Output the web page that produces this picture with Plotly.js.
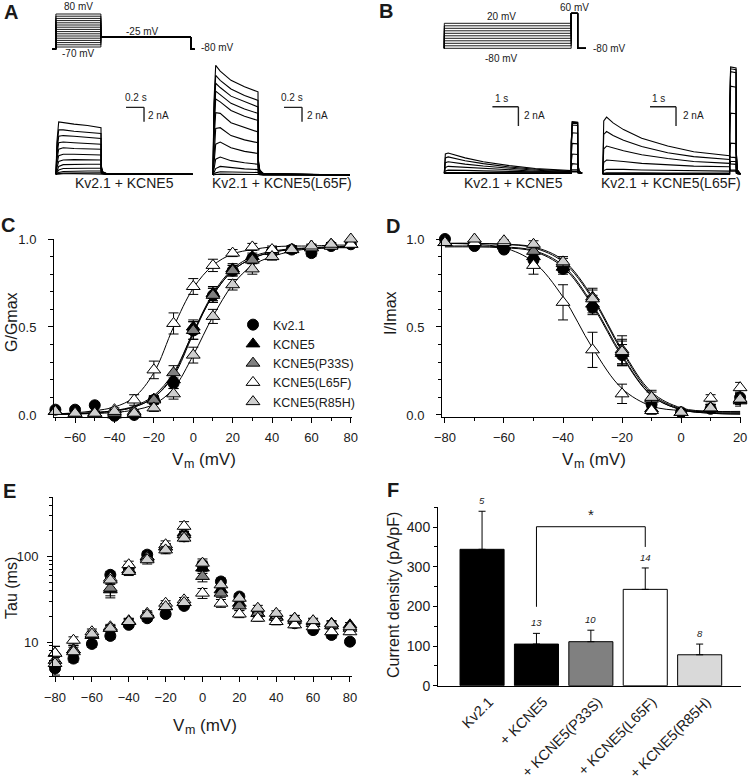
<!DOCTYPE html>
<html><head><meta charset="utf-8">
<script src="https://cdn.plot.ly/plotly-3.0.1.min.js"></script>
<style>html,body{margin:0;padding:0;background:#fff}</style>
</head><body><div id="chart" style="width:750px;height:782px"></div>
<script>
// ---------- DATA ----------
// Panel A: voltage protocol (mV) and current sweeps (nA) vs time (s)
const protoA_steps = [-70,-60,-50,-40,-30,-20,-10,0,10,20,30,40,50,60,70,80];
const protoA_t = [-0.04, 0, 0, 0.5, 0.5, 1.5, 1.5, 1.54];
const protoA_hold = -80, protoA_tail = -25;
const aTime = [0, 0.01, 0.03, 0.08, 0.2, 0.35, 0.5, 0.503, 0.52, 0.56, 1.52];
const aKCNE5 = [
 [0, 4.5, 7.3, 7.2, 7.0, 6.8, 6.5, 1.2, 0.35, 0.1, 0],
 [0, 3.8, 6.2, 6.2, 6.0, 5.9, 5.7, 1.0, 0.3, 0.1, 0],
 [0, 3.2, 5.3, 5.4, 5.3, 5.2, 5.0, 0.9, 0.3, 0.08, 0],
 [0, 2.6, 4.4, 4.5, 4.4, 4.3, 4.2, 0.8, 0.25, 0.08, 0],
 [0, 2.0, 3.5, 3.7, 3.6, 3.6, 3.5, 0.7, 0.22, 0.07, 0],
 [0, 1.4, 2.6, 2.8, 2.8, 2.75, 2.7, 0.6, 0.2, 0.06, 0],
 [0, 0.9, 1.8, 2.0, 2.05, 2.0, 2.0, 0.5, 0.18, 0.05, 0],
 [0, 0.5, 1.1, 1.35, 1.4, 1.4, 1.4, 0.4, 0.15, 0.05, 0],
 [0, 0.25, 0.6, 0.8, 0.85, 0.85, 0.85, 0.3, 0.1, 0.04, 0],
 [0, 0.1, 0.25, 0.4, 0.45, 0.47, 0.47, 0.2, 0.08, 0.03, 0],
 [0, 0.04, 0.1, 0.17, 0.21, 0.22, 0.22, 0.1, 0.05, 0.02, 0],
 [0, 0.02, 0.04, 0.07, 0.09, 0.1, 0.1, 0.05, 0.03, 0.01, 0]
];
const aL65F = [
 [0, 10, 15.3, 14.5, 13.2, 12.3, 11.6, 2.2, 0.7, 0.2, 0],
 [0, 9, 13.9, 13.2, 12.0, 11.1, 10.4, 2.0, 0.6, 0.2, 0],
 [0, 8, 12.8, 12.2, 11.0, 10.2, 9.5, 1.8, 0.55, 0.18, 0],
 [0, 7, 11.7, 11.2, 10.0, 9.2, 8.6, 1.6, 0.5, 0.16, 0],
 [0, 6, 10.6, 10.2, 9.0, 8.2, 7.6, 1.4, 0.45, 0.15, 0],
 [0, 4.5, 8.7, 8.6, 7.3, 6.6, 6.0, 1.2, 0.4, 0.12, 0],
 [0, 3, 6.5, 6.6, 5.5, 4.9, 4.5, 1.0, 0.35, 0.1, 0],
 [0, 1.8, 4.3, 4.6, 3.8, 3.3, 3.0, 0.8, 0.3, 0.08, 0],
 [0, 0.8, 2.2, 2.5, 2.0, 1.7, 1.5, 0.5, 0.2, 0.06, 0],
 [0, 0.3, 0.9, 1.2, 1.0, 0.85, 0.75, 0.3, 0.12, 0.04, 0],
 [0, 0.1, 0.3, 0.45, 0.42, 0.38, 0.35, 0.15, 0.07, 0.02, 0],
 [0, 0.03, 0.08, 0.12, 0.13, 0.12, 0.12, 0.06, 0.03, 0.01, 0]
];
// Panel B
const protoB_steps = [-80,-70,-60,-50,-40,-30,-20,-10,0,10,20];
const protoB_t = [0, 0, 4.88, 4.88, 5.13, 5.13, 5.45];
const protoB_hold = -80, protoB_test = 60;
const bTime = [0, 0.04, 0.15, 0.4, 0.8, 1.5, 2.5, 3.5, 4.88, 4.885, 4.92, 5.13, 5.135, 5.18, 5.3];
const bKCNE5 = [
 [0, 2.0, 2.1, 1.9, 1.6, 1.2, 0.8, 0.5, 0.28, 0.4, 0.35, 0.35, 0.1, 0.03, 0],
 [0, 1.6, 1.7, 1.55, 1.3, 1.0, 0.65, 0.42, 0.22, 0.3, 0.2, 0.2, 0.06, 0.02, 0],
 [0, 1.1, 1.2, 1.1, 0.95, 0.75, 0.5, 0.32, 0.17, 0.2, 0.15, 0.15, 0.05, 0.02, 0],
 [0, 0.6, 0.72, 0.68, 0.6, 0.48, 0.33, 0.22, 0.12, 0.6, 1.0, 0.95, 0.25, 0.05, 0],
 [0, 0.25, 0.33, 0.33, 0.3, 0.25, 0.18, 0.12, 0.07, 1.2, 2.0, 1.95, 0.45, 0.08, 0],
 [0, 0.05, 0.08, 0.09, 0.09, 0.08, 0.06, 0.05, 0.03, 1.9, 3.1, 3.05, 0.7, 0.12, 0],
 [0, 0, 0, 0, 0, 0, 0, 0, 0, 2.6, 4.2, 4.15, 0.9, 0.15, 0],
 [0, 0, 0, 0, 0, 0, 0, 0, 0, 3.1, 5.0, 4.95, 1.1, 0.18, 0],
 [0, 0, 0, 0, 0, 0, 0, 0, 0, 3.2, 5.2, 5.15, 1.15, 0.2, 0],
 [0, 0, 0, 0, 0, 0, 0, 0, 0, 3.3, 5.3, 5.25, 1.2, 0.2, 0],
 [0, 0, 0, 0, 0, 0, 0, 0, 0, 3.3, 5.35, 5.3, 1.2, 0.2, 0]
];
const bL65F = [
 [0, 5.5, 5.9, 5.3, 4.6, 3.7, 2.9, 2.3, 1.9, 1.9, 1.75, 1.7, 0.4, 0.08, 0],
 [0, 4.1, 4.4, 4.0, 3.5, 2.85, 2.2, 1.8, 1.5, 1.3, 1.05, 1.0, 0.25, 0.05, 0],
 [0, 2.6, 2.9, 2.7, 2.4, 2.0, 1.6, 1.3, 1.1, 0.6, 0.3, 0.3, 0.08, 0.02, 0],
 [0, 1.2, 1.45, 1.4, 1.3, 1.1, 0.95, 0.82, 0.75, 0.5, 0.4, 0.4, 0.1, 0.02, 0],
 [0, 0.35, 0.5, 0.5, 0.48, 0.42, 0.37, 0.33, 0.3, 0.9, 1.3, 1.3, 0.3, 0.06, 0],
 [0, 0.08, 0.12, 0.13, 0.13, 0.12, 0.11, 0.1, 0.09, 2.0, 3.2, 3.15, 0.7, 0.12, 0],
 [0, 0, 0, 0, 0, 0, 0, 0, 0, 4.0, 6.3, 6.25, 1.4, 0.25, 0],
 [0, 0, 0, 0, 0, 0, 0, 0, 0, 5.8, 9.1, 9.0, 2.0, 0.35, 0],
 [0, 0, 0, 0, 0, 0, 0, 0, 0, 6.8, 10.6, 10.5, 2.3, 0.4, 0],
 [0, 0, 0, 0, 0, 0, 0, 0, 0, 7.0, 10.9, 10.8, 2.4, 0.4, 0],
 [0, 0, 0, 0, 0, 0, 0, 0, 0, 7.1, 11.1, 11.0, 2.4, 0.4, 0]
];
const scaleA = {t: 0.2, i: 2};
const scaleB = {t: 1, i: 2};

// Panel C: G/Gmax
const vC = [-70,-60,-50,-40,-30,-20,-10,0,10,20,30,40,50,60,70,80];
const gKv21  = [0.03,0.03,0.055,-0.005,0.0,0.085,0.18,0.48,0.68,0.82,0.89,0.93,0.94,0.92,0.96,0.97];
const gKCNE5 = [0.02,0.01,0.01,0.0,0.01,0.09,0.2,0.5,0.69,0.83,0.9,0.93,0.94,0.95,0.96,0.97];
const gP33S  = [0.02,0.01,0.01,0.01,0.02,0.085,0.24,0.48,0.68,0.82,0.88,0.93,0.94,0.96,0.97,0.97];
const gL65F  = [0.02,0.01,0.01,0.03,0.085,0.256,0.52,0.73,0.85,0.92,0.955,0.94,0.94,0.95,0.96,0.97];
const gR85H  = [0.02,0.01,0.01,0.02,0.01,0.04,0.12,0.34,0.56,0.74,0.83,0.9,0.94,0.96,0.97,1.0];
const egKv21  = [0.01,0.01,0.01,0.01,0.01,0.02,0.03,0.05,0.04,0.03,0.02,0.02,0.02,0.02,0.01,0.01];
const egKCNE5 = [0.01,0.01,0.01,0.01,0.01,0.02,0.03,0.04,0.04,0.03,0.02,0.02,0.02,0.01,0.01,0.01];
const egP33S  = [0.01,0.01,0.01,0.01,0.01,0.02,0.04,0.05,0.04,0.03,0.02,0.02,0.02,0.01,0.01,0.01];
const egL65F  = [0.01,0.01,0.01,0.01,0.03,0.05,0.06,0.045,0.035,0.02,0.02,0.02,0.01,0.01,0.01,0.01];
const egR85H  = [0.01,0.01,0.01,0.01,0.01,0.02,0.03,0.045,0.04,0.03,0.03,0.02,0.02,0.01,0.01,0.01];
const fitGKv21  = [0.005,0.008,0.013,0.024,0.045,0.1,0.22,0.46,0.68,0.82,0.89,0.925,0.94,0.945,0.95,0.95];
const fitGKCNE5 = [0.004,0.007,0.012,0.022,0.045,0.1,0.23,0.47,0.69,0.83,0.9,0.93,0.945,0.95,0.955,0.955];
const fitGP33S  = [0.004,0.007,0.013,0.025,0.05,0.11,0.24,0.47,0.68,0.82,0.89,0.925,0.94,0.95,0.955,0.96];
const fitGL65F  = [0.006,0.012,0.024,0.045,0.1,0.24,0.5,0.72,0.85,0.915,0.94,0.955,0.96,0.96,0.965,0.965];
const fitGR85H  = [0.003,0.005,0.008,0.014,0.028,0.06,0.15,0.34,0.56,0.74,0.85,0.9,0.93,0.945,0.95,0.955];

// Panel D: I/Imax
const vD = [-80,-70,-60,-50,-40,-30,-20,-10,0,10,20];
const iKv21  = [1.0,0.96,0.94,0.88,0.83,0.61,0.34,0.06,0.015,0.035,0.10];
const iKCNE5 = [0.98,0.99,0.96,0.90,0.84,0.63,0.35,0.035,0.015,0.04,0.08];
const iP33S  = [0.98,0.99,0.98,0.93,0.86,0.67,0.37,0.09,0.015,0.04,0.09];
const iL65F  = [0.98,0.98,0.98,0.85,0.64,0.37,0.12,0.025,0.015,0.095,0.155];
const iR85H  = [0.98,1.0,0.99,0.97,0.87,0.66,0.36,0.10,0.015,0.04,0.09];
const eiKv21  = [0.01,0.01,0.01,0.03,0.03,0.04,0.06,0.03,0.01,0.02,0.03];
const eiKCNE5 = [0.01,0.01,0.01,0.02,0.03,0.05,0.07,0.03,0.01,0.02,0.03];
const eiP33S  = [0.01,0.01,0.01,0.02,0.03,0.05,0.08,0.04,0.01,0.02,0.03];
const eiL65F  = [0.01,0.01,0.01,0.05,0.1,0.1,0.055,0.02,0.01,0.02,0.03];
const eiR85H  = [0.01,0.01,0.01,0.02,0.03,0.05,0.07,0.04,0.01,0.02,0.03];
const fitIKv21  = [0.955,0.955,0.95,0.93,0.84,0.62,0.33,0.11,0.03,0.01,0.005];
const fitIKCNE5 = [0.96,0.96,0.955,0.935,0.85,0.63,0.34,0.11,0.03,0.01,0.005];
const fitIP33S  = [0.975,0.975,0.97,0.95,0.87,0.66,0.36,0.12,0.035,0.015,0.01];
const fitIL65F  = [0.975,0.97,0.95,0.87,0.67,0.38,0.15,0.05,0.025,0.02,0.02];
const fitIR85H  = [0.975,0.975,0.97,0.955,0.88,0.67,0.37,0.13,0.04,0.02,0.015];

// Panel E: Tau (ms), fast component over all voltages, slow component -50..-10 mV
const vE = [-80,-70,-60,-50,-40,-30,-20,-10,0,10,20,30,40,50,60,70,80];
const tFKv21  = [4.9,6.4,9.5,11.8,15.9,19,21.3,26.5,80.5,51.2,34.1,22.7,19,16.6,13.8,12.1,10.1];
const tFKCNE5 = [7.4,8.1,12,14.5,17.4,20.8,26,29,73.6,40.9,28.5,21.7,19.9,19,17.4,16.6,15.9];
const tFP33S  = [6.1,8.1,12,14.5,17.4,20.8,26,29,58.7,37.4,26.5,21.7,19.5,18,16.5,15.5,14.5];
const tFL65F  = [7.4,10.5,13.2,15.1,17.8,21.7,28.5,31.2,37.4,28.5,21.3,19,17.4,15.9,15.1,13.2,13.2];
const tFR85H  = [5.6,7.7,12.4,14.5,17.4,20.8,26,29,84,46.8,32.6,24.9,21.7,19,17.8,16.3,15.1];
const etFKv21  = [0.8,0.6,0.8,1,1,1.5,1.5,2,8,5,3,2,1.5,1.2,1,1,0.8];
const etFKCNE5 = [1.5,1,1,1,1.2,1.5,2,2,10,5,3,2,1.5,1.5,1.2,1.2,1];
const etFP33S  = [1.2,1,1,1,1.2,1.5,2,2,8,4,3,2,1.5,1.5,1.2,1.2,1];
const etFL65F  = [1.5,1,1,1,1.2,1.5,2,2,5,3,2,1.5,1.5,1.2,1,1,1];
const etFR85H  = [1,1,1,1,1.2,1.5,2,2,10,5,3,2,1.5,1.5,1.2,1.2,1];
const vES = [-50,-40,-30,-20,-10];
const tSKv21  = [61.3,73.6,105.6,126,173];
const tSKCNE5 = [40.9,70,100,130,190];
const tSP33S  = [42.8,70,100,130,181];
const tSL65F  = [56,80.5,96,138,227];
const tSR85H  = [53.3,67.1,92,120,165];
const etSKv21  = [6,7,10,12,15];
const etSKCNE5 = [8,7,10,12,20];
const etSP33S  = [8,7,10,12,18];
const etSL65F  = [6,8,10,15,30];
const etSR85H  = [6,7,10,12,15];

// Panel F: current density
const catsF = ['Kv2.1', '+ KCNE5', '+ KCNE5(P33S)', '+ KCNE5(L65F)', '+ KCNE5(R85H)'];
const densF = [344, 105, 111, 243, 78];
const errF = [96, 27, 29, 54, 27];
const nF = ['5', '13', '10', '14', '8'];
const sigF = {from: 1, to: 3, yLeft: 199, yTop: 401, yRight: 350, label: '*'};

const seriesNames = ['Kv2.1', 'KCNE5', 'KCNE5(P33S)', 'KCNE5(L65F)', 'KCNE5(R85H)'];

// ---------- STYLE ----------
const W = 750, H = 782;
const FONT = '"Liberation Sans", Arial, Helvetica, sans-serif';
const TXT = '#1a1a1a';
const symbols = ['circle', 'triangle-up', 'triangle-up', 'triangle-up', 'triangle-up'];
const fills = ['#000000', '#000000', '#808080', '#ffffff', '#cfcfcf'];
const barFills = ['#000000', '#000000', '#808080', '#ffffff', '#d9d9d9'];
const sizes = [11, 12, 12, 12, 12];
function dx(a, b) { return [a / W, b / W]; }
function dy(t, b) { return [1 - b / H, 1 - t / H]; }
function px(x) { return x / W; }
function py(y) { return 1 - y / H; }

const traces = [];
function addLine(x, y, xa, ya, w) {
  traces.push({x: x, y: y, xaxis: xa, yaxis: ya, mode: 'lines', line: {color: '#000', width: w || 1.1},
    hoverinfo: 'skip', showlegend: false});
}
// Protocol A
protoA_steps.forEach(v => addLine(protoA_t, [protoA_hold, protoA_hold, v, v, protoA_tail, protoA_tail, protoA_hold, protoA_hold], 'x', 'y', 0.9));
aKCNE5.forEach(r => addLine(aTime, r, 'x2', 'y2'));
aL65F.forEach(r => addLine(aTime, r, 'x3', 'y3'));
// Protocol B
protoB_steps.forEach(v => addLine(protoB_t, [protoB_hold, v, v, protoB_test, protoB_test, protoB_hold, protoB_hold], 'x4', 'y4', 0.9));
bKCNE5.forEach(r => addLine(bTime, r, 'x5', 'y5'));
bL65F.forEach(r => addLine(bTime, r, 'x6', 'y6'));

// Panel C
const gData = [gKv21, gKCNE5, gP33S, gL65F, gR85H];
const gErr = [egKv21, egKCNE5, egP33S, egL65F, egR85H];
const gFit = [fitGKv21, fitGKCNE5, fitGP33S, fitGL65F, fitGR85H];
gFit.forEach(f => traces.push({x: vC, y: f, xaxis: 'x7', yaxis: 'y7', mode: 'lines',
  line: {color: '#000', width: 1, shape: 'spline', smoothing: 1}, hoverinfo: 'skip', showlegend: false}));
function markerTrace(x, y, e, i, xa, ya, legend, capw) {
  return {x: x, y: y, xaxis: xa, yaxis: ya, mode: 'markers', name: seriesNames[i],
    legendgroup: seriesNames[i], showlegend: legend, cliponaxis: false,
    marker: {symbol: symbols[i], size: sizes[i], color: fills[i], line: {color: '#000', width: 1}},
    error_y: {type: 'data', array: e, visible: true, thickness: 1, width: capw, color: '#000'}};
}
gData.forEach((d, i) => traces.push(markerTrace(vC, d, gErr[i], i, 'x7', 'y7', true, 5)));

// Panel D
const iData = [iKv21, iKCNE5, iP33S, iL65F, iR85H];
const iErr = [eiKv21, eiKCNE5, eiP33S, eiL65F, eiR85H];
const iFit = [fitIKv21, fitIKCNE5, fitIP33S, fitIL65F, fitIR85H];
iFit.forEach(f => traces.push({x: vD, y: f, xaxis: 'x8', yaxis: 'y8', mode: 'lines',
  line: {color: '#000', width: 1, shape: 'spline', smoothing: 1}, hoverinfo: 'skip', showlegend: false}));
iData.forEach((d, i) => traces.push(markerTrace(vD, d, iErr[i], i, 'x8', 'y8', false, 5)));

// Panel E
const tF = [tFKv21, tFKCNE5, tFP33S, tFL65F, tFR85H];
const etF = [etFKv21, etFKCNE5, etFP33S, etFL65F, etFR85H];
const tS = [tSKv21, tSKCNE5, tSP33S, tSL65F, tSR85H];
const etS = [etSKv21, etSKCNE5, etSP33S, etSL65F, etSR85H];
tF.forEach((d, i) => traces.push(markerTrace(vE, d, etF[i], i, 'x9', 'y9', false, 5)));
tS.forEach((d, i) => traces.push(markerTrace(vES, d, etS[i], i, 'x9', 'y9', false, 5)));

// Panel F
const xF = catsF.map((c, i) => i);
traces.push({type: 'bar', x: xF, y: densF, xaxis: 'x10', yaxis: 'y10', width: 0.81,
  marker: {color: barFills, line: {color: '#000', width: 1}}, showlegend: false, hoverinfo: 'skip',
  error_y: {type: 'data', symmetric: false, array: errF, arrayminus: densF.map(() => 0),
    visible: true, thickness: 1, width: 3.5, color: '#000'}});

// ---------- LAYOUT ----------
function hidden(domain, range, anchor) {
  return {domain: domain, range: range, anchor: anchor, visible: false, fixedrange: true};
}
const tickFont = {family: FONT, size: 13, color: TXT};
function dataAxis(o) {
  return Object.assign({showline: true, linecolor: '#000', linewidth: 1, ticks: 'outside', ticklen: 5,
    tickwidth: 1, tickcolor: '#000', showgrid: false, zeroline: false, tickfont: tickFont,
    fixedrange: true}, o);
}
const layout = {
  width: W, height: H, margin: {l: 0, r: 0, t: 0, b: 0}, paper_bgcolor: '#fff', plot_bgcolor: 'rgba(0,0,0,0)',
  font: {family: FONT, color: TXT},
  showlegend: true,
  legend: {x: px(233), y: py(310), xanchor: 'left', yanchor: 'top', bgcolor: 'rgba(0,0,0,0)',
    font: {family: FONT, size: 12.5, color: TXT}, tracegroupgap: 0, itemclick: false},
  xaxis: hidden(dx(51.4, 199.9), [-0.05, 1.6], 'y'),
  yaxis: hidden(dy(11.8, 51.4), [-90, 90], 'x'),
  xaxis2: hidden(dx(51.5, 195.5), [-0.05, 1.55], 'y2'),
  yaxis2: hidden(dy(100.45, 176.45), [-0.3, 10.3], 'x2'),
  xaxis3: hidden(dx(208.5, 352.5), [-0.05, 1.55], 'y3'),
  yaxis3: hidden(dy(60.3, 177.15), [-0.3, 16], 'x3'),
  xaxis4: hidden(dx(441.7, 589.9), [-0.1, 5.6], 'y4'),
  yaxis4: hidden(dy(10.8, 50.8), [-90, 70], 'x4'),
  xaxis5: hidden(dx(441.7, 592.5), [-0.1, 5.7], 'y5'),
  yaxis5: hidden(dy(100.9, 176.2), [-0.3, 7.5], 'x5'),
  xaxis6: hidden(dx(600.1, 748.3), [-0.1, 5.6], 'y6'),
  yaxis6: hidden(dy(62.06, 176.9), [-0.3, 11.6], 'x6'),
  xaxis7: dataAxis({domain: dx(54, 352), range: [-70.7, 80.6], anchor: 'y7',
    tickvals: [-60,-40,-20,0,20,40,60,80], ticklabelstandoff: 4,
    minor: {tickmode: 'linear', tick0: -70, dtick: 10, ticks: 'outside', ticklen: 3, tickcolor: '#000'}}),
  yaxis7: dataAxis({domain: dy(239, 416.7), range: [-0.01, 1.0], anchor: 'x7',
    tickvals: [0, 0.5, 1], ticktext: ['0.0', '0.5', '1.0'], ticklabelstandoff: 9,
    minor: {tickmode: 'linear', tick0: 0, dtick: 0.1, ticks: 'outside', ticklen: 3, tickcolor: '#000'}}),
  xaxis8: dataAxis({domain: dx(442, 741), range: [-81, 20.3], anchor: 'y8',
    tickvals: [-80,-60,-40,-20,0,20], ticklabelstandoff: 4,
    minor: {tickmode: 'linear', tick0: -80, dtick: 10, ticks: 'outside', ticklen: 3, tickcolor: '#000'}}),
  yaxis8: dataAxis({domain: dy(239, 416.7), range: [-0.01, 1.0], anchor: 'x8',
    tickvals: [0, 0.5, 1], ticktext: ['0.0', '0.5', '1.0'], ticklabelstandoff: 9,
    minor: {tickmode: 'linear', tick0: 0, dtick: 0.1, ticks: 'outside', ticklen: 3, tickcolor: '#000'}}),
  xaxis9: dataAxis({domain: dx(53, 352), range: [-81.1, 81.1], anchor: 'y9',
    tickvals: [-80,-60,-40,-20,0,20,40,60,80], ticklabelstandoff: 4,
    minor: {tickmode: 'linear', tick0: -80, dtick: 10, ticks: 'outside', ticklen: 3, tickcolor: '#000'}}),
  yaxis9: dataAxis({domain: dy(497, 676), type: 'log', range: [Math.log10(4), Math.log10(500)], anchor: 'x9',
    tickvals: [10, 100], ticktext: ['10', '100'], ticklabelstandoff: 6,
    minor: {tickmode: 'array', tickvals: [4,5,6,7,8,9,20,30,40,50,60,70,80,90,200,300,400,500],
      ticks: 'outside', ticklen: 3, tickcolor: '#000'}}),
  xaxis10: dataAxis({domain: dx(438, 741), range: [-0.81, 4.76], anchor: 'y10', ticks: '',
    tickvals: xF, ticktext: catsF, tickangle: -45, ticklabelshift: 7, ticklabelstandoff: 1,
    tickfont: {family: FONT, size: 14.5, color: TXT}}),
  yaxis10: dataAxis({domain: dy(507.3, 685.7), range: [0, 450], anchor: 'x10', ticklen: 4,
    tickvals: [0, 100, 200, 300, 400], tickfont: {family: FONT, size: 14, color: TXT},
    minor: {tickmode: 'linear', tick0: 0, dtick: 50, ticks: 'outside', ticklen: 3, tickcolor: '#000'}})
};

// scale bars and significance bracket as shapes in data coordinates
const shapes = [];
function scaleBar(xa, ya, t0, i0, sc) {
  const st = {type: 'line', xref: xa, yref: ya, line: {color: '#222', width: 1.4}};
  shapes.push(Object.assign({x0: t0, x1: t0 + sc.t, y0: i0, y1: i0}, st));
  shapes.push(Object.assign({x0: t0 + sc.t, x1: t0 + sc.t, y0: i0, y1: i0 - sc.i}, st));
}
scaleBar('x2', 'y2', 0.778, 9.34, scaleA);
scaleBar('x3', 'y3', 0.789, 9.44, scaleA);
scaleBar('x5', 'y5', 1.85, 6.9, scaleB);
scaleBar('x6', 'y6', 1.82, 6.97, scaleB);
const sigSt = {type: 'line', xref: 'x10', yref: 'y10', line: {color: '#000', width: 1}};
shapes.push(Object.assign({x0: sigF.from, x1: sigF.from, y0: sigF.yLeft, y1: sigF.yTop}, sigSt));
shapes.push(Object.assign({x0: sigF.from, x1: sigF.to, y0: sigF.yTop, y1: sigF.yTop}, sigSt));
shapes.push(Object.assign({x0: sigF.to, x1: sigF.to, y0: sigF.yTop, y1: sigF.yRight}, sigSt));
layout.shapes = shapes;

const ann = [];
function txt(text, x, y, size, opts, fontExtra) {
  ann.push(Object.assign({text: text, x: px(x), y: py(y), xref: 'paper', yref: 'paper', showarrow: false,
    xanchor: 'center', yanchor: 'middle',
    font: Object.assign({family: FONT, size: size, color: TXT}, fontExtra || {})}, opts || {}));
}
// "Vm (mV)" axis title: V, subscript m, (mV) as separate text pieces
function vmTitle(cx, cy) {
  const s = 17, wV = 0.667 * s, wm = 0.833 * 12.5, gap = 0.278 * s, wRest = 2.166 * s;
  const x0 = cx - (wV + wm + gap + wRest) / 2;
  txt('V', x0, cy, s, {xanchor: 'left'});
  txt('m', x0 + wV, cy + 4.5, 12.5, {xanchor: 'left'});
  txt('(mV)', x0 + wV + wm + gap, cy, s, {xanchor: 'left'});
}
// panel letters
[['A', 11, 12], ['B', 386, 11], ['C', 8, 225], ['D', 393, 226], ['E', 9, 491], ['F', 393, 490]]
  .forEach(l => txt(l[0], l[1], l[2], 20, {}, {weight: 'bold'}));
// protocol labels
txt('80 mV', 78, 7, 10); txt('-70 mV', 78, 53, 10); txt('-25 mV', 142, 31.5, 10);
txt('-80 mV', 199, 48, 10, {xanchor: 'left'});
txt('20 mV', 501, 16, 10); txt('60 mV', 574.3, 7.3, 10); txt('-80 mV', 501, 58.3, 10);
txt('-80 mV', 591, 48.3, 10, {xanchor: 'left'});
// scale bar labels
txt('0.2 s', 135.5, 97.3, 10); txt('2 nA', 146, 115, 10, {xanchor: 'left'});
txt('0.2 s', 292, 97.3, 10); txt('2 nA', 305, 115, 10, {xanchor: 'left'});
txt('1 s', 501, 98.3, 10); txt('2 nA', 522, 115, 10, {xanchor: 'left'});
txt('1 s', 658.3, 98.3, 10); txt('2 nA', 681, 115, 10, {xanchor: 'left'});
// trace labels
txt('Kv2.1 + KCNE5', 124.7, 183, 14); txt('Kv2.1 + KCNE5(L65F)', 281.7, 183, 14);
txt('Kv2.1 + KCNE5', 513, 183, 14); txt('Kv2.1 + KCNE5(L65F)', 671, 183, 14);
// axis titles
txt('G/Gmax', 11, 322, 16, {textangle: -90});
vmTitle(202, 459);
txt('I/Imax', 391, 313, 16, {textangle: -90});
vmTitle(592, 459);
txt('Tau (ms)', 11, 588, 16, {textangle: -90});
vmTitle(203, 725);
txt('Current density (pA/pF)', 393, 595, 16, {textangle: -90});
// N numbers and significance star (data coordinates)
nF.forEach((n, i) => ann.push({text: n, x: xF[i], y: densF[i] + errF[i], xref: 'x10', yref: 'y10',
  showarrow: false, yanchor: 'bottom', yshift: 3, font: {family: FONT, size: 9.5, color: TXT, style: 'italic'}}));
ann.push({text: sigF.label, x: (sigF.from + sigF.to) / 2, y: sigF.yTop, xref: 'x10', yref: 'y10',
  showarrow: false, yanchor: 'bottom', yshift: 2, font: {family: FONT, size: 15, color: TXT}});
layout.annotations = ann;

Plotly.newPlot('chart', traces, layout, {staticPlot: true, displayModeBar: false});
</script></body></html>
